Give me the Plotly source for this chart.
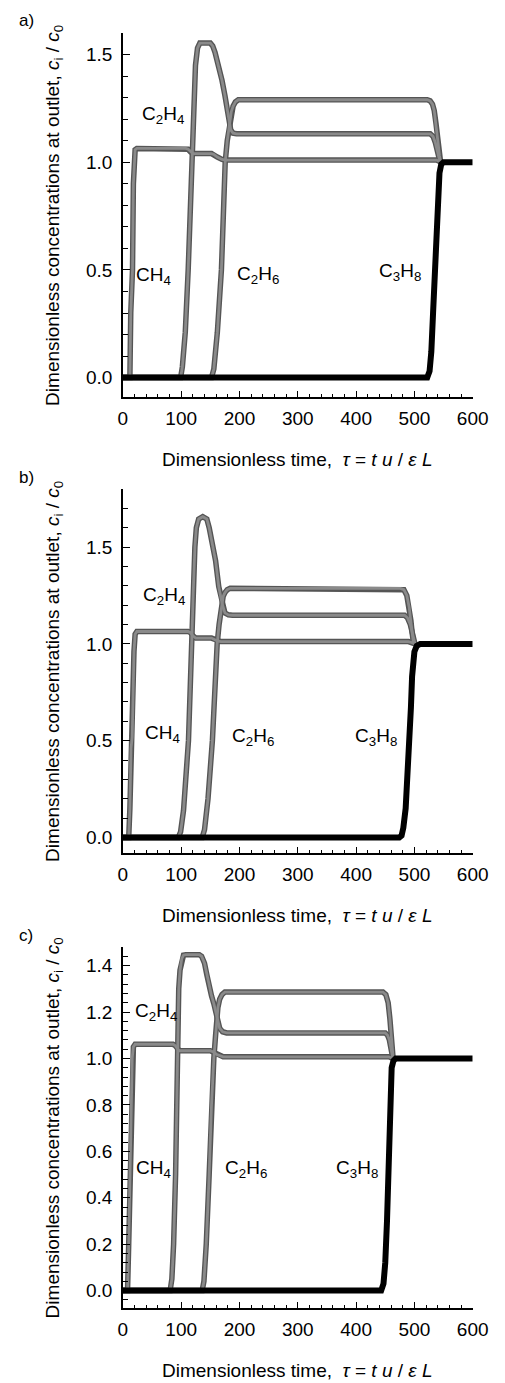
import plotly.graph_objects as go

# ---------------- data ----------------
# panel a
ch4_a_x = [0, 12, 13.5, 15, 16.5, 18, 19.5, 21, 24, 108, 112, 116, 120, 152, 156, 162, 170, 176, 538, 542, 546]
ch4_a_y = [0, 0, 0.3, 0.44, 0.5, 0.9, 1.03, 1.058, 1.064, 1.064, 1.06, 1.048, 1.04, 1.04, 1.036, 1.024, 1.013, 1.01, 1.01, 1.005, 1.0]
c2h4_a_x = [0, 99, 102, 107, 112, 116, 118, 122, 124.5, 128, 132, 150, 154, 158, 164, 170, 175, 179, 182, 185, 189, 195, 527, 532, 536, 540, 544]
c2h4_a_y = [0, 0, 0.05, 0.21, 0.5, 0.83, 1.0, 1.29, 1.45, 1.53, 1.553, 1.553, 1.54, 1.51, 1.45, 1.38, 1.31, 1.24, 1.19, 1.15, 1.135, 1.132, 1.132, 1.12, 1.09, 1.04, 1.0]
c2h6_a_x = [0, 152, 156, 162, 169, 173, 175.5, 179, 182, 184, 186, 189, 193, 198, 522, 527, 531, 534, 537, 539, 541, 543, 545]
c2h6_a_y = [0, 0, 0.04, 0.21, 0.5, 0.83, 1.0, 1.1, 1.16, 1.2, 1.235, 1.26, 1.28, 1.29, 1.29, 1.285, 1.27, 1.24, 1.18, 1.13, 1.08, 1.03, 1.0]
c3h8_a_x = [0, 522, 526, 529, 532, 535, 537, 539, 541, 543, 546, 550, 600]
c3h8_a_y = [0, 0, 0.03, 0.12, 0.3, 0.45, 0.55, 0.75, 0.88, 0.95, 0.99, 1.0, 1.0]

# panel b
ch4_b_x = [0, 10, 12, 14, 16, 17.5, 19, 21, 24, 112, 116, 120, 125, 152, 157, 162, 168, 490, 495, 501]
ch4_b_y = [0, 0, 0.15, 0.46, 0.52, 0.8, 0.96, 1.05, 1.064, 1.064, 1.058, 1.042, 1.03, 1.03, 1.024, 1.015, 1.012, 1.012, 1.007, 1.0]
c2h4_b_x = [0, 95, 99, 104, 112.5, 116, 118, 120.6, 123.5, 126, 130, 137, 144, 148, 153.5, 159, 164.4, 170, 175, 181, 188, 483, 488, 493, 497, 501]
c2h4_b_y = [0, 0, 0.03, 0.14, 0.5, 0.9, 1.0, 1.26, 1.5, 1.6, 1.645, 1.657, 1.645, 1.6, 1.52, 1.43, 1.296, 1.21, 1.16, 1.15, 1.148, 1.148, 1.135, 1.1, 1.05, 1.0]
c2h6_b_x = [0, 136, 140, 146, 153.5, 158, 161.7, 165, 168, 170, 172, 175, 179, 184, 476, 482, 487, 491, 494, 496, 498.5]
c2h6_b_y = [0, 0, 0.04, 0.2, 0.5, 0.8, 1.0, 1.1, 1.17, 1.215, 1.245, 1.265, 1.28, 1.287, 1.287, 1.28, 1.25, 1.19, 1.12, 1.06, 1.0]
c3h8_b_x = [0, 474, 478, 481, 485, 489, 492, 494, 496, 498, 500, 504, 510, 600]
c3h8_b_y = [0, 0, 0.01, 0.05, 0.15, 0.33, 0.5, 0.67, 0.83, 0.91, 0.96, 0.99, 1.0, 1.0]

# panel c
ch4_c_x = [0, 8, 10, 11.5, 13, 14.5, 16, 18, 21, 86, 90, 94, 97, 150, 155, 161, 168, 172, 456, 460, 463]
ch4_c_y = [0, 0, 0.2, 0.42, 0.47, 0.8, 1.0, 1.05, 1.061, 1.061, 1.055, 1.04, 1.033, 1.033, 1.028, 1.017, 1.009, 1.007, 1.007, 1.004, 1.0]
c2h4_c_x = [0, 81, 84, 87, 90.4, 93, 95.8, 98, 101, 104, 108, 131, 135, 140, 144, 148, 152, 156, 159, 162, 166, 171, 178, 450, 454, 457, 460, 463]
c2h4_c_y = [0, 0, 0.05, 0.2, 0.5, 1.0, 1.3, 1.38, 1.43, 1.445, 1.447, 1.447, 1.44, 1.41, 1.36, 1.308, 1.27, 1.236, 1.2, 1.165, 1.13, 1.115, 1.11, 1.11, 1.1, 1.08, 1.04, 1.0]
c2h6_c_x = [0, 136, 139, 143, 148, 152, 156, 159, 161, 163, 166, 170, 175, 446, 451, 455, 458, 460, 462, 463.5]
c2h6_c_y = [0, 0, 0.04, 0.2, 0.5, 0.8, 1.0, 1.1, 1.17, 1.22, 1.255, 1.275, 1.286, 1.286, 1.275, 1.24, 1.17, 1.1, 1.04, 1.0]
c3h8_c_x = [0, 443, 447, 450, 453, 455, 457, 459, 461, 464, 468, 600]
c3h8_c_y = [0, 0, 0.03, 0.12, 0.3, 0.5, 0.75, 0.9, 0.96, 0.99, 1.0, 1.0]

# species labels: (text, x, y) per panel
label_names = ["CH<sub>4</sub>", "C<sub>2</sub>H<sub>4</sub>", "C<sub>2</sub>H<sub>6</sub>", "C<sub>3</sub>H<sub>8</sub>"]
labels_a_x = [53, 68, 232, 475]
labels_a_y = [0.47, 1.22, 0.475, 0.49]
labels_b_x = [68, 71, 224, 434]
labels_b_y = [0.535, 1.245, 0.52, 0.52]
labels_c_x = [53, 56, 211, 401]
labels_c_y = [0.525, 1.2, 0.525, 0.525]

panel_letters = ["a)", "b)", "c)"]
y_ranges = [[-0.09, 1.6], [-0.08, 1.8], [-0.075, 1.48]]
y_dticks = [0.5, 0.5, 0.2]
y_minor = [0.1, 0.1, 0.04]
x_range = [0, 600]

# ---------------- figure ----------------
W, H = 505, 1383
FONT = "Liberation Sans, Arial, sans-serif"
EDGE = "#555555"
FILL = "#8a8a8a"

# pixel geometry of the panels (top, bottom of plot area)
panel_px = [(33, 397), (489, 853), (947, 1308)]
x_dom = [123 / W, 488 / W]

fig = go.Figure()

panels = [
    dict(gray=[(ch4_a_x, ch4_a_y), (c2h4_a_x, c2h4_a_y), (c2h6_a_x, c2h6_a_y)], black=(c3h8_a_x, c3h8_a_y),
         lx=labels_a_x, ly=labels_a_y),
    dict(gray=[(ch4_b_x, ch4_b_y), (c2h4_b_x, c2h4_b_y), (c2h6_b_x, c2h6_b_y)], black=(c3h8_b_x, c3h8_b_y),
         lx=labels_b_x, ly=labels_b_y),
    dict(gray=[(ch4_c_x, ch4_c_y), (c2h4_c_x, c2h4_c_y), (c2h6_c_x, c2h6_c_y)], black=(c3h8_c_x, c3h8_c_y),
         lx=labels_c_x, ly=labels_c_y),
]

annotations = []
layout_axes = {}
for i, p in enumerate(panels):
    sfx = "" if i == 0 else str(i + 1)
    xa, ya = "x" + sfx, "y" + sfx
    # gray outlines first, then gray fill, then black
    for (gx, gy) in p["gray"]:
        fig.add_trace(go.Scatter(x=gx, y=gy, xaxis=xa, yaxis=ya, mode="lines",
                                 line=dict(color=EDGE, width=5.5), showlegend=False, hoverinfo="skip"))
    for (gx, gy) in p["gray"]:
        fig.add_trace(go.Scatter(x=gx, y=gy, xaxis=xa, yaxis=ya, mode="lines",
                                 line=dict(color=FILL, width=2.8), showlegend=False, hoverinfo="skip"))
    bx, by = p["black"]
    fig.add_trace(go.Scatter(x=bx, y=by, xaxis=xa, yaxis=ya, mode="lines",
                             line=dict(color="black", width=6), showlegend=False, hoverinfo="skip"))

    top, bot = panel_px[i]
    y_dom = [1 - bot / H, 1 - top / H]
    layout_axes["xaxis" + sfx] = dict(
        domain=x_dom, anchor=ya, range=x_range, showgrid=False, zeroline=False,
        showline=True, linecolor="black", linewidth=1.5,
        ticks="inside", ticklen=6, tickwidth=1.3, tickcolor="black", dtick=100, tick0=0,
        minor=dict(ticks="inside", ticklen=3.5, tickwidth=1.1, tickcolor="black", dtick=20),
        tickfont=dict(family=FONT, size=19, color="black"), ticklabelstandoff=3,
    )
    layout_axes["yaxis" + sfx] = dict(
        domain=y_dom, anchor=xa, range=y_ranges[i], showgrid=False, zeroline=False,
        showline=True, linecolor="black", linewidth=1.5,
        ticks="inside", ticklen=7, tickwidth=1.3, tickcolor="black", dtick=y_dticks[i], tick0=0,
        tickformat=".1f",
        minor=dict(ticks="inside", ticklen=5, tickwidth=1.1, tickcolor="black", dtick=y_minor[i]),
        tickfont=dict(family=FONT, size=19, color="black"), ticklabelstandoff=5,
    )

    # species labels
    for name, lx, ly in zip(label_names, p["lx"], p["ly"]):
        annotations.append(dict(text=name, x=lx, y=ly, xref=xa, yref=ya, showarrow=False,
                                font=dict(family=FONT, size=19, color="black"),
                                xanchor="center", yanchor="middle"))

    # y-axis title
    annotations.append(dict(
        text="Dimensionless concentrations at outlet, <i>c</i><sub>i</sub> / <i>c</i><sub>0</sub>",
        x=51 / W, y=1 - ((top + bot) / 2) / H, xref="paper", yref="paper", showarrow=False,
        textangle=-90, font=dict(family=FONT, size=19, color="black"),
        xanchor="center", yanchor="middle"))
    # x-axis title
    annotations.append(dict(
        text="Dimensionless time,  <i>\u03c4</i> = <i>t u</i> / <i>\u03b5 L</i>",
        x=305 / W, y=1 - (bot + 62) / H, xref="paper", yref="paper", showarrow=False,
        font=dict(family=FONT, size=19, color="black"), xanchor="center", yanchor="middle"))
    # panel letter
    annotations.append(dict(
        text=panel_letters[i], x=22 / W, y=1 - (top - 12) / H, xref="paper", yref="paper",
        showarrow=False, font=dict(family=FONT, size=17, color="black"),
        xanchor="center", yanchor="middle"))

fig.update_layout(
    width=W, height=H, margin=dict(l=0, r=0, t=0, b=0),
    paper_bgcolor="white", plot_bgcolor="white",
    showlegend=False, annotations=annotations, **layout_axes,
)

fig.write_html("out.html")
